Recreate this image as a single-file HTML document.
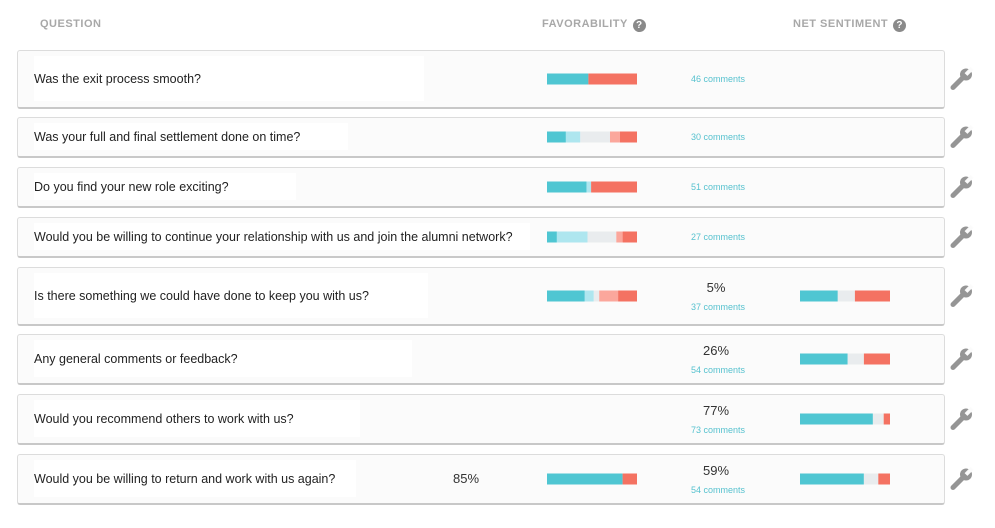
<!DOCTYPE html>
<html><head><meta charset="utf-8"><style>
body{margin:0;width:995px;height:528px;background:#fff;font-family:"Liberation Sans",sans-serif;position:relative;overflow:hidden}
.hdr{position:absolute;top:18px;font-size:11px;font-weight:bold;color:#a8a8a8;letter-spacing:0.5px}
.help{display:inline-block;width:13px;height:13px;border-radius:50%;background:#8a8a8a;color:#fff;font-size:10px;text-align:center;line-height:13px;margin-left:5px;vertical-align:-1px}
.card{position:absolute;left:17px;width:928px;background:#fbfbfb;border:1px solid #dcdcdc;border-bottom:2px solid #c8c8c8;border-radius:3px;box-sizing:border-box}
.qbox{position:absolute;left:16px;background:#fff;font-size:12.5px;color:#222;display:flex;align-items:center;white-space:nowrap}
.pct{position:absolute;font-size:13px;color:#333;text-align:center;width:80px}
.cm{position:absolute;font-size:9px;color:#57c2cf;text-align:center;width:80px}
</style></head><body>
<div class="hdr" style="left:40px">QUESTION</div>
<div class="hdr" style="left:542px">FAVORABILITY<span class="help">?</span></div>
<div class="hdr" style="left:793px">NET SENTIMENT<span class="help">?</span></div>
<svg id="bars" width="995" height="528" style="position:absolute;left:0;top:0;z-index:2;pointer-events:none"></svg>
<script>
const questions=["Was the exit process smooth?","Was your full and final settlement done on time?","Do you find your new role exciting?","Would you be willing to continue your relationship with us and join the alumni network?","Is there something we could have done to keep you with us?","Any general comments or feedback?","Would you recommend others to work with us?","Would you be willing to return and work with us again?"];
const commentCounts=[46,30,51,27,37,54,73,54];
const favScoreLabels=[null,null,null,null,null,null,null,"85%"];
const netLabels=[null,null,null,null,"5%","26%","77%","59%"];
const favorability=[[46,0,0,0,54],[21,16,33,11,19],[44,5,0,0,51],[11,34,32,7,16],[42,10,6,21,21],null,null,[84,0,0,0,16]];
const netSentiment=[null,null,null,null,[42,19,39],[53,18,29],[81,12,7],[71,16,13]];
const cardTops=[50,117,167,217,267,334,394,454],cardH=[59,41,41,41,59,51,51,51],qW=[390,314,262,496,394,378,326,322];
const favCols=["#4fc6d2","#aee6ef","#e9ecee","#fba79c","#f47262"],netCols=["#4fc6d2","#e9ecee","#f47262"];
function fx(v){return 547+v*0.9} function nx(v){return 800+v*0.9}
const svg=document.getElementById('bars'),NS='http://www.w3.org/2000/svg';
questions.forEach((q,i)=>{
 const t=cardTops[i],h=cardH[i],c=t+h/2-1;
 const card=document.createElement('div');card.className='card';
 
 
 card.style.top=t+'px';card.style.height=h+'px';
 const qb=document.createElement('div');qb.className='qbox';
 
 
 qb.style.top='5px';qb.style.height=(h-14)+'px';qb.style.width=qW[i]+'px';qb.textContent=q;
 card.appendChild(qb);document.body.appendChild(card);
 const two=netLabels[i]!==null;
 if(favScoreLabels[i]){const p=document.createElement('div');p.className='pct';
  
  
  p.style.left='426px';p.style.top=(c-8)+'px';p.textContent=favScoreLabels[i];document.body.appendChild(p);}
 if(two){const p=document.createElement('div');p.className='pct';
  
  
  p.style.left='676px';p.style.top=(c-16)+'px';p.textContent=netLabels[i];document.body.appendChild(p);}
 const cm=document.createElement('div');cm.className='cm';
 
 
 cm.style.left='678px';cm.style.top=(two?c+6:c-5)+'px';cm.textContent=commentCounts[i]+' comments';document.body.appendChild(cm);
 const draw=(vals,cols,sc,name)=>{let acc=0;vals.forEach((v,k)=>{if(v<=0)return;const r=document.createElementNS(NS,'rect');
  
  
  r.setAttribute('x',sc(acc));r.setAttribute('width',sc(acc+v)-sc(acc));r.setAttribute('y',c-5);r.setAttribute('height',11);r.setAttribute('fill',cols[k]);svg.appendChild(r);acc+=v;});};
 if(favorability[i])draw(favorability[i],favCols,fx,'favorability');
 if(netSentiment[i])draw(netSentiment[i],netCols,nx,'net-sentiment');
 const w=document.createElementNS(NS,'g');
 
 
 w.setAttribute('transform','translate(950,'+(c-11)+')');
 w.innerHTML='<path d="M3 20 L12 11" stroke="#959595" stroke-width="5" stroke-linecap="round"/><circle cx="16" cy="7" r="6" fill="#959595"/><path d="M16 7 L22 1" stroke="#fbfbfb" stroke-width="4"/>';
 svg.appendChild(w);
});
</script>
</body></html>
